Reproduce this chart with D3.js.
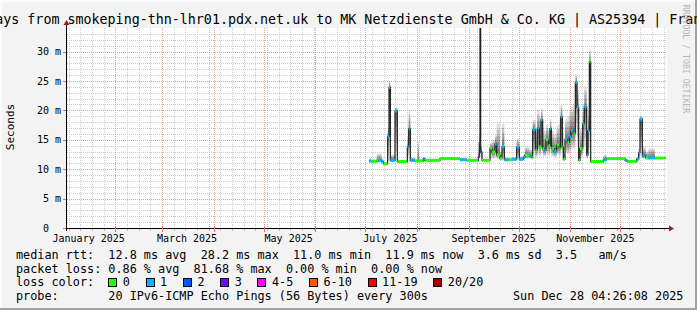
<!DOCTYPE html>
<html><head><meta charset="utf-8">
<script src="https://cdn.jsdelivr.net/npm/d3@7"></script>
<style>
html,body{margin:0;padding:0;background:#f3f3f3;}
svg{display:block;}
text{font-family:"DejaVu Sans Mono",monospace;white-space:pre;}
</style></head><body>
<svg id="c" width="697" height="310"></svg>
<script>
// ---------------- data ----------------
const titleText = "Last 360 Days from smokeping-thn-lhr01.pdx.net.uk to MK Netzdienste GmbH & Co. KG | AS25394 | Frankfurt";
const yAxisTitle = "Seconds";
const yTickValues = [0, 5, 10, 15, 20, 25, 30];              // ms
const yTickLabels = ["0  ", "5 m", "10 m", "15 m", "20 m", "25 m", "30 m"];
const xLabelMonths = ["2025-01", "2025-03", "2025-05", "2025-07", "2025-09", "2025-11"];
// step data: day of year 2025 (fractional) where each step begins
const stepDay = [184.4,185.4,188.8,189.8,191.8,192.8,195.4,196.2,197.0,199.8,
  201.2,207.2,208.0,209.0,211.8,213.4,214.2,216.8,217.6,226.8,
  238.8,242.8,249.8,250.4,250.8,251.2,252.0,256.8,258.0,259.8,
  260.8,262.8,264.0,265.4,268.0,270.0,272.8,274.4,276.8,277.8,
  280.2,281.8,282.4,284.0,285.2,286.4,287.4,288.4,289.4,290.4,
  291.8,292.8,293.6,295.2,296.8,298.4,299.2,300.2,300.8,301.8,
  303.2,304.4,305.4,306.8,308.0,309.0,310.0,310.8,312.4,313.4,
  314.8,315.6,316.4,317.2,324.8,326.8,337.8,339.2,344.8,346.0,
  346.8,348.2,349.4,350.2,351.8,355.8];
const endDay = 362.18;
const medianMs = [11.4,11.3,11.4,11.5,11.3,10.9,15.6,23.9,11.5,19.9,
  11.3,13.8,16.9,11.5,11.4,11.4,11.4,11.8,11.5,11.8,
  11.6,11.5,12.1,14.5,45.0,12.9,11.5,13.6,12.9,14.3,
  12.4,11.8,13.8,11.6,11.6,11.7,13.7,11.7,12.0,12.4,
  12.2,12.0,16.7,13.2,17.0,13.8,18.4,13.5,13.2,15.0,
  14.0,16.9,13.5,13.0,14.1,13.5,18.9,13.8,11.7,15.1,
  14.5,15.5,16.5,16.0,24.7,20.5,11.5,13.5,17.7,20.6,
  12.4,16.5,28.3,11.3,11.6,11.8,11.5,11.3,11.7,12.8,
  18.5,12.2,12.4,11.9,11.9,11.9];
const lossLevel = [1,0,0,1,1,0,1,1,1,1,
  0,1,1,1,0,0,0,1,0,0,
  1,0,4,6,1,2,0,0,0,1,
  0,0,1,1,0,1,1,1,1,0,
  1,0,1,0,1,0,1,0,1,0,
  0,1,0,1,0,0,1,0,0,1,
  0,1,1,0,1,1,0,0,1,1,
  1,1,0,0,1,0,1,0,1,1,
  1,1,1,0,1,0];
const smokeLowMs = [11.2,11.1,11.2,11.2,11.1,10.7,11.5,14.0,11.2,13.0,
  11.1,11.8,12.5,11.2,11.2,11.2,11.2,11.5,11.3,11.6,
  11.4,11.3,11.6,12.0,20.0,11.8,11.3,11.8,11.8,12.0,
  11.8,11.5,12.0,11.4,11.4,11.4,11.8,11.4,11.6,11.8,
  11.8,11.6,12.5,12.0,12.5,12.2,13.0,12.2,12.2,12.5,
  12.3,12.8,12.2,12.0,12.5,12.3,13.5,12.5,11.4,12.8,
  12.5,13.0,13.5,13.5,16.0,14.0,11.3,12.0,13.0,14.0,
  11.8,13.0,18.0,11.1,11.4,11.6,11.3,11.1,11.4,12.0,
  13.5,11.8,11.9,11.7,11.7,11.7];
const smokeHighMs = [11.8,11.7,12.6,12.7,11.8,11.2,17.0,25.0,12.5,20.5,
  11.6,15.5,20.0,12.0,11.7,14.8,11.7,12.0,11.7,12.0,
  11.9,11.7,13.5,16.0,50.0,14.0,11.7,14.5,15.0,15.8,
  17.8,13.0,17.8,12.0,11.9,12.0,15.2,12.2,12.5,13.8,
  13.5,13.0,18.4,17.0,20.0,19.0,20.2,17.0,16.5,17.5,
  17.0,18.5,16.5,16.0,17.5,18.0,21.0,18.0,13.0,18.5,
  19.0,20.0,20.5,21.0,26.0,24.0,13.0,17.0,21.0,24.0,
  15.0,20.0,30.5,11.6,12.4,12.0,11.8,11.6,12.0,13.5,
  19.0,13.8,13.8,13.0,13.5,12.1];
const lossLabels = ["0", "1", "2", "3", "4-5", "6-10", "11-19", "20/20"];
const lossColors = ["#26ff00", "#00b8ff", "#0059ff", "#7e00ff", "#ff00ff", "#ff5500", "#ff0000", "#a10000"];
const statsRows = [
  "median rtt:  12.8 ms avg  28.2 ms max  11.0 ms min  11.9 ms now  3.6 ms sd  3.5   am/s",
  "packet loss: 0.86 % avg  81.68 % max  0.00 % min  0.00 % now"
];
const lossRowLabel = "loss color:";
const probeText = "probe:       20 IPv6-ICMP Echo Pings (56 Bytes) every 300s";
const dateText = "Sun Dec 28 04:26:08 2025";
const watermark = "RRDTOOL / TOBI OETIKER";

// ---------------- drawing ----------------
const svg = d3.select("#c");
const W = 697, H = 310;
const L = 67, R = 667, T = 28, B = 228;
const base = new Date(2025, 0, 1);
const dayToDate = d => new Date(base.getTime() + (d - 1) * 864e5);
const tStart = new Date(2025, 0, 3), tEnd = new Date(2025, 11, 29);
const x = d3.scaleTime().domain([tStart, tEnd]).range([L, R]);
const y = d3.scaleLinear().domain([0, 34]).range([B, T]);

// background & 3D frame
svg.append("rect").attr("width", W).attr("height", H).attr("fill", "#f3f3f3");
svg.append("rect").attr("x", 0).attr("y", 0).attr("width", W).attr("height", 2).attr("fill", "#fbfbfb");
svg.append("rect").attr("x", 0).attr("y", 0).attr("width", 2).attr("height", H).attr("fill", "#fbfbfb");
svg.append("rect").attr("x", 0).attr("y", H - 2).attr("width", W).attr("height", 2).attr("fill", "#a0a0a0");
svg.append("rect").attr("x", W - 2).attr("y", 0).attr("width", 2).attr("height", H).attr("fill", "#a0a0a0");
svg.append("rect").attr("x", L).attr("y", T).attr("width", R - L).attr("height", B - T).attr("fill", "#ffffff");

// grid
const grid = svg.append("g");
const minorCol = "#cdcdcd", majorCol = "#f09a9a";
const yMinor = d3.range(1, 34).filter(v => v % 5 !== 0);
grid.selectAll(".hm").data(yMinor).join("line")
  .attr("x1", L).attr("x2", R).attr("y1", d => Math.round(y(d)) + 0.5).attr("y2", d => Math.round(y(d)) + 0.5)
  .attr("stroke", minorCol).attr("stroke-dasharray", "1,1");
const weeks = d3.timeSaturday.range(tStart, tEnd);
grid.selectAll(".vm").data(weeks).join("line")
  .attr("x1", d => Math.round(x(d)) + 0.5).attr("x2", d => Math.round(x(d)) + 0.5).attr("y1", T).attr("y2", B)
  .attr("stroke", minorCol).attr("stroke-dasharray", "1,1");
grid.selectAll(".hM").data(yTickValues.filter(v => v > 0)).join("line")
  .attr("x1", L).attr("x2", R).attr("y1", d => Math.round(y(d)) + 0.5).attr("y2", d => Math.round(y(d)) + 0.5)
  .attr("stroke", majorCol).attr("stroke-dasharray", "1,1");
const months = d3.timeMonth.range(tStart, tEnd);
grid.selectAll(".vM").data(months).join("line")
  .attr("x1", d => Math.round(x(d)) + 0.5).attr("x2", d => Math.round(x(d)) + 0.5).attr("y1", T).attr("y2", B)
  .attr("stroke", majorCol).attr("stroke-dasharray", "1,1");

// data
const steps = stepDay.map((d, i) => ({
  t0: dayToDate(d), t1: dayToDate(i + 1 < stepDay.length ? stepDay[i + 1] : endDay),
  m: medianMs[i], loss: lossLevel[i], lo: smokeLowMs[i], hi: smokeHighMs[i]
}));
svg.append("clipPath").attr("id", "pc").append("rect").attr("x", L).attr("y", T).attr("width", R - L).attr("height", B - T);
const g = svg.append("g").attr("clip-path", "url(#pc)");
const shades = [1, 0.8, 0.6, 0.4, 0.2];
shades.forEach(f => {
  g.append("g").selectAll("rect").data(steps).join("rect")
    .attr("x", d => x(d.t0)).attr("width", d => Math.max(0.6, x(d.t1) - x(d.t0)))
    .attr("y", d => y(d.m + f * (d.hi - d.m)))
    .attr("height", d => y(d.m - f * (d.m - d.lo)) - y(d.m + f * (d.hi - d.m)))
    .attr("fill", "#000").attr("fill-opacity", 0.13);
});
const pts = steps.map(s => [s.t0, s.m]).concat([[dayToDate(endDay), medianMs[medianMs.length - 1]]]);
g.append("path").attr("d", d3.line().x(p => x(p[0])).y(p => y(p[1])).curve(d3.curveStepAfter)(pts))
  .attr("fill", "none").attr("stroke", "#202020").attr("stroke-width", 1.2);
g.append("g").selectAll("rect").data(steps).join("rect")
  .attr("x", d => x(d.t0)).attr("width", d => Math.max(1, x(d.t1) - x(d.t0)))
  .attr("y", d => y(d.m) - 1.5).attr("height", 3)
  .attr("fill", d => lossColors[d.loss]);

// axes
const arrowCol = "#9b1c1c";
svg.append("line").attr("x1", 63).attr("x2", 669).attr("y1", B + 0.5).attr("y2", B + 0.5).attr("stroke", "#000");
svg.append("line").attr("x1", L - 0.5).attr("x2", L - 0.5).attr("y1", 231).attr("y2", 24).attr("stroke", "#000");
svg.append("path").attr("d", `M${L - 3.5},25 L${L - 0.5},20 L${L + 2.5},25 Z`).attr("fill", arrowCol);
svg.append("path").attr("d", `M669,${B - 2.5} L674,${B + 0.5} L669,${B + 3.5} Z`).attr("fill", arrowCol);
svg.selectAll(".tx").data(weeks).join("line")
  .attr("x1", d => Math.round(x(d)) + 0.5).attr("x2", d => Math.round(x(d)) + 0.5).attr("y1", B + 1).attr("y2", B + 3)
  .attr("stroke", "#bbbbbb");
svg.selectAll(".txM").data(months).join("line")
  .attr("x1", d => Math.round(x(d)) + 0.5).attr("x2", d => Math.round(x(d)) + 0.5).attr("y1", B - 2).attr("y2", B + 4)
  .attr("stroke", "#e07070");
svg.selectAll(".ty").data(yTickValues).join("line")
  .attr("x1", L - 4).attr("x2", L - 1).attr("y1", d => Math.round(y(d)) + 0.5).attr("y2", d => Math.round(y(d)) + 0.5)
  .attr("stroke", "#e07070");

// y labels
svg.selectAll(".yl").data(yTickValues).join("text")
  .attr("x", 61).attr("y", d => y(d) + 3.6).attr("text-anchor", "end")
  .attr("font-size", "10px").attr("fill", "#000").text((d, i) => yTickLabels[i]);
// x labels (centered mid-month)
const parseM = d3.timeParse("%Y-%m"), fmtM = d3.timeFormat("%B %Y");
svg.selectAll(".xl").data(xLabelMonths.map(parseM)).join("text")
  .attr("x", d => x(d3.timeDay.offset(d, 15))).attr("y", 242).attr("text-anchor", "middle")
  .attr("font-size", "10px").attr("fill", "#000").text(d => fmtM(d));
// axis title
svg.append("text").attr("transform", "translate(14,127) rotate(-90)").attr("text-anchor", "middle")
  .attr("font-size", "11px").attr("fill", "#000").text(yAxisTitle);
// title
svg.append("text").attr("x", -85).attr("y", 24).attr("font-size", "13.33px").attr("fill", "#000").text(titleText);
// watermark
svg.append("text").attr("transform", "translate(682.5,59) rotate(90)").attr("text-anchor", "middle")
  .attr("font-size", "8.2px").attr("fill", "#b5b5b5").text(watermark);

// legend
const LF = "11.8px", CW = 7.1, lx = 16, rowY = [258.6, 272.5, 286.4, 300.3];
statsRows.forEach((s, i) => svg.append("text").attr("x", lx).attr("y", rowY[i]).attr("font-size", LF).text(s));
svg.append("text").attr("x", lx).attr("y", rowY[2]).attr("font-size", LF).text(lossRowLabel);
let bx = 108.3;
lossLabels.forEach((lab, i) => {
  svg.append("rect").attr("x", Math.round(bx) + 0.5).attr("y", 278.5).attr("width", 8).attr("height", 8)
    .attr("fill", lossColors[i]).attr("stroke", "#000").attr("stroke-width", 1);
  svg.append("text").attr("x", bx + 14.5).attr("y", rowY[2]).attr("font-size", LF).text(lab);
  bx = bx + 15 + lab.length * CW + 15.2;
});
svg.append("text").attr("x", lx).attr("y", rowY[3]).attr("font-size", LF).text(probeText);
svg.append("text").attr("x", lx + 70 * CW).attr("y", rowY[3]).attr("font-size", LF).text(dateText);
</script>
</body></html>
